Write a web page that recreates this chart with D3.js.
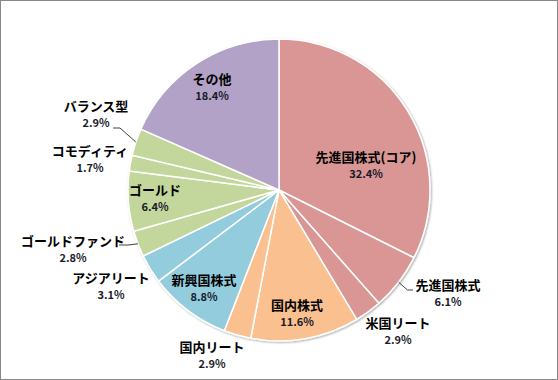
<!DOCTYPE html>
<html><head><meta charset="utf-8">
<script src="https://cdn.jsdelivr.net/npm/d3@7"></script>
<style>body{margin:0;background:#fff}svg{display:block}</style>
</head><body>
<svg id="chart" width="558" height="380"></svg>
<script>
const categories = ["先進国株式(コア)","先進国株式","米国リート","国内株式","国内リート","新興国株式","アジアリート","ゴールドファンド","ゴールド","コモディティ","バランス型","その他"];
const values = [32.4,6.1,2.9,11.6,2.9,8.8,3.1,2.8,6.4,1.7,2.9,18.4];
const groups = ["red","red","red","orange","orange","blue","blue","green","green","green","green","purple"];
const groupColors = {red:"#D99694",orange:"#FAC090",blue:"#93CDDD",green:"#C3D69B",purple:"#B3A2C7"};
// label placement (inside / outside) and positions
const labelPos = [[366,157],[448,285],[398,323],[297,305],[212,347],[204,280],[111,278],[73,241],[155,190],[90,151],[96,106],[212,79]];

const svg = d3.select("#chart");
svg.append("rect").attr("x",0.5).attr("y",0.5).attr("width",557).attr("height",379)
  .attr("fill","#fff").attr("stroke","#888");

const cx = 279, cy = 190, R = 151;
const g = svg.append("g").attr("transform",`translate(${cx},${cy})`);
const pie = d3.pie().sort(null).value(d=>d)(values);
const arc = d3.arc().innerRadius(0).outerRadius(R);

const defs = svg.append("defs");
const f = defs.append("filter").attr("id","sh").attr("x","-10%").attr("y","-10%").attr("width","120%").attr("height","120%");
f.append("feGaussianBlur").attr("in","SourceAlpha").attr("stdDeviation",1.2);
f.append("feOffset").attr("dx",0.5).attr("dy",1).attr("result","b");
f.append("feComponentTransfer").append("feFuncA").attr("type","linear").attr("slope",0.35);
const fm = f.append("feMerge"); fm.append("feMergeNode"); fm.append("feMergeNode").attr("in","SourceGraphic");

const pg = g.append("g").attr("filter","url(#sh)");
pg.selectAll("path").data(pie).join("path")
  .attr("d",arc)
  .attr("fill",(d,i)=>groupColors[groups[i]])
  .attr("stroke","#fff").attr("stroke-width",1.5).attr("stroke-linejoin","round");

// leader lines
const leaders = {1:[[407.5,290],[413,290]], 7:[[128,245],[119,245]], 10:[[120,128],[113,128]]};
Object.entries(leaders).forEach(([k,pts])=>{
  const d = pie[+k];
  const a = (d.startAngle+d.endAngle)/2;
  const p0 = [cx+R*Math.sin(a), cy-R*Math.cos(a)];
  svg.append("path").attr("d", d3.line()([p0,...pts])).attr("fill","none").attr("stroke","#404040").attr("stroke-width",1);
});

const font = "'Meiryo UI','Noto Sans CJK JP','Noto Sans',sans-serif";
const lab = svg.append("g").attr("font-family",font).attr("font-weight","bold").attr("text-anchor","middle");
categories.forEach((c,i)=>{
  const [x,y] = labelPos[i];
  lab.append("text").attr("x",x).attr("y",y).attr("dy","0.35em").attr("font-size",13).attr("fill","#000").text(c);
  lab.append("text").attr("x",x).attr("y",y+17.5).attr("dy","0.35em").attr("font-size",11).attr("fill","#1a1a2a").text(d3.format(".1f")(values[i])+"%");
});
</script>
</body></html>
